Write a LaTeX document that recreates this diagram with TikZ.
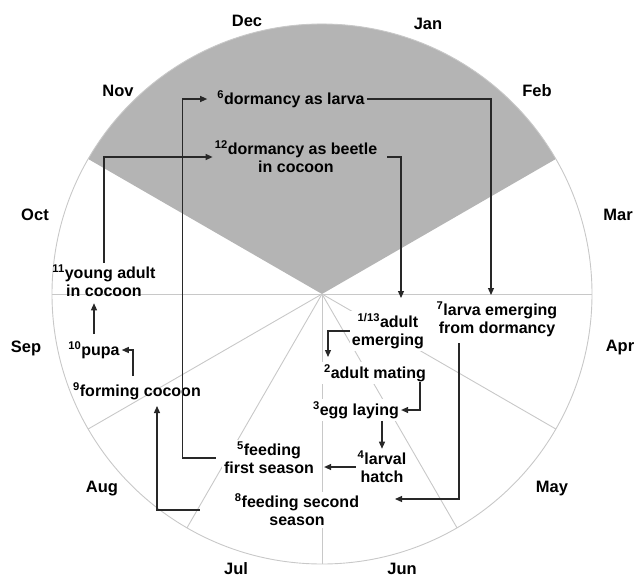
\documentclass[tikz,border=0pt]{standalone}
\usepackage{fontspec}
\setmainfont{Liberation Sans}
\usetikzlibrary{arrows.meta}

\definecolor{dormgray}{RGB}{180,180,180}
\definecolor{rimgray}{RGB}{200,200,200}
\definecolor{flowgray}{RGB}{40,40,40}

\begin{document}
\begin{tikzpicture}[x=1pt,y=1pt,
    month/.style={font=\fontsize{16.5}{19}\selectfont\bfseries},
    stage/.style={font=\fontsize{16}{18}\selectfont\bfseries, align=center, inner sep=2pt},
    stagew/.style={stage, fill=white},
    flow/.style={draw=flowgray, line width=1.2pt, -{Triangle[length=7pt,width=6pt]}},
    rim/.style={draw=rimgray, line width=0.9pt}]

    \useasboundingbox (-322,-285) rectangle (314,294);

    % the year wheel, winter shaded
    \fill[dormgray] (0,0) -- (30:270) arc[start angle=30, end angle=150, radius=270pt] -- cycle;
    \draw[rim] (0,0) circle[radius=270pt];
    \draw[rim] (180:270) -- (0:270);
    \draw[rim] (0,0) -- (-30:270);
    \draw[rim] (0,0) -- (-60:270);
    \draw[rim] (0,0) -- (-90:270);
    \draw[rim] (0,0) -- (-120:270);
    \draw[rim] (0,0) -- (-150:270);

    \node[month] (dec) at (-75,273) {Dec};
    \node[month] (jan) at (106,270) {Jan};
    \node[month] (feb) at (215,203) {Feb};
    \node[month] (mar) at (296,79) {Mar};
    \node[month] (apr) at (298,-54) {Apr};
    \node[month] (may) at (230,-195) {May};
    \node[month] (jun) at (80,-275) {Jun};
    \node[month] (jul) at (-86,-275) {Jul};
    \node[month] (aug) at (-220,-195) {Aug};
    \node[month] (sep) at (-296,-54) {Sep};
    \node[month] (oct) at (-287,79) {Oct};
    \node[month] (nov) at (-204,203) {Nov};

    % life stages
    \node[stage] (n6) at (-31,195) {\textsuperscript{6}dormancy as larva};
    \node[stage] (n12) at (-26,137) {\textsuperscript{12}dormancy as beetle\\in cocoon};
    \node[stage] (n11) at (-218,13) {\textsuperscript{11}young adult\\in cocoon};
    \node[stagew] (n7) at (175,-25) {\textsuperscript{7}larva emerging\\from dormancy};
    \node[stagew] (n1) at (66,-37) {\textsuperscript{1/13}adult\\emerging};
    \node[stagew] (n2) at (53,-79) {\textsuperscript{2}adult mating};
    \node[stagew] (n3) at (34,-116) {\textsuperscript{3}egg laying};
    \node[stagew] (n4) at (60,-173) {\textsuperscript{4}larval\\hatch};
    \node[stagew] (n5) at (-53,-164) {\textsuperscript{5}feeding\\first season};
    \node[stagew] (n8) at (-25,-216) {\textsuperscript{8}feeding second\\season};
    \node[stage] (n9) at (-185,-97) {\textsuperscript{9}forming cocoon};
    \node[stage] (n10) at (-228,-56) {\textsuperscript{10}pupa};

    \draw[flow] ([xshift=8pt]n12.east) -| ([xshift=13pt,yshift=33pt]n1.center);
    \draw[flow] (n6.east) -| ([xshift=-6pt,yshift=24pt]n7.center);
    \draw[flow] (n11.north) |- (n12.west);
    \draw[flow] ([xshift=-6pt]n5.west) -- ++(-33,0) |- ([xshift=-8pt]n6.west);
    \draw[flow] (n1.west) -| ([xshift=-47pt,yshift=16pt]n2.center);
    \draw[flow] ([xshift=45pt,yshift=-9pt]n2.center) |- (n3.east);
    \draw[flow] (n3.south -| n4.north) -- (n4.north);
    \draw[flow, shorten >=8pt] (n4.west) -- (n4.west -| n5.east);
    \draw[flow] ([xshift=-38pt,yshift=-24pt]n7.center) |- ([xshift=98pt,yshift=11pt]n8.center);
    \draw[flow] ([xshift=-97pt]n8.center) -| ([xshift=20pt,yshift=-15pt]n9.center);
    \draw[flow] ([xshift=-4pt,yshift=15pt]n9.center) |- (n10.east);
    \draw[flow, shorten <=5pt, shorten >=4pt] (n10.north) -- (n10.north |- n11.south);

\end{tikzpicture}
\end{document}
